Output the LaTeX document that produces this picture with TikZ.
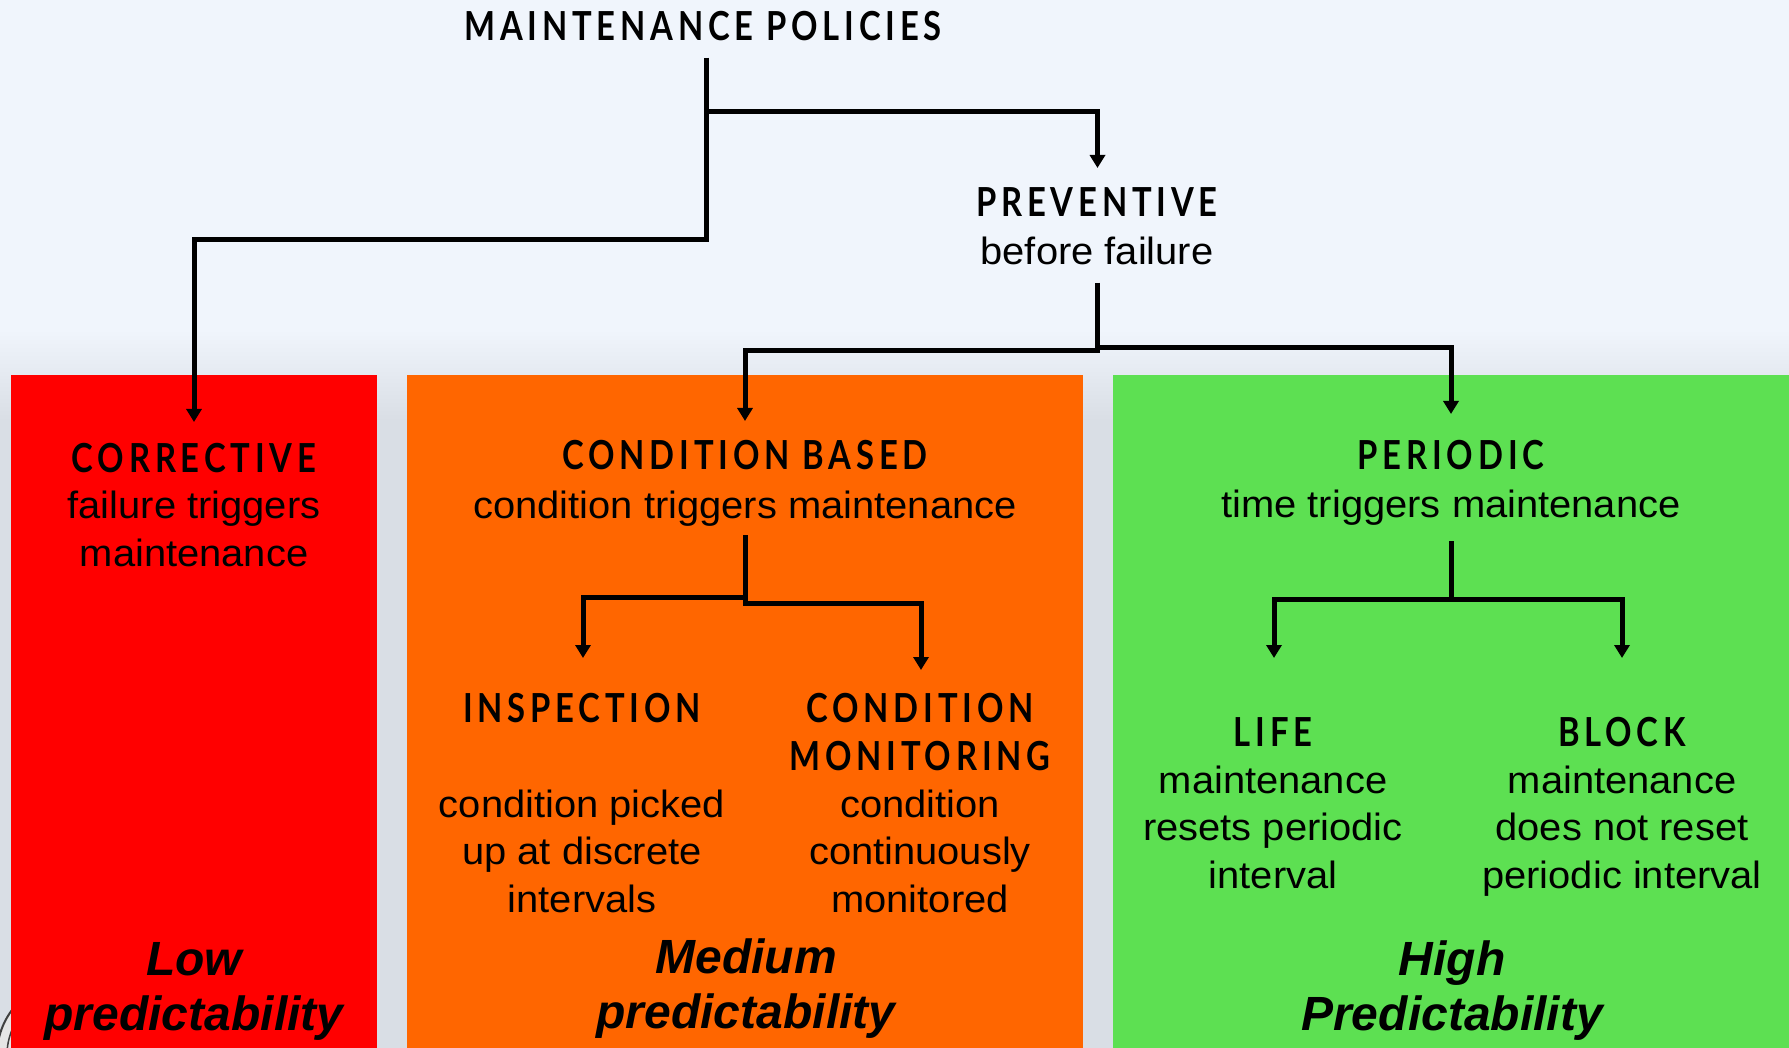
\documentclass[tikz,border=0pt]{standalone}
\usepackage{fontspec}
\usetikzlibrary{arrows.meta}
\setmainfont{Liberation Sans}
\newfontfamily\bodyfont{Liberation Sans}[FakeStretch=1.05]
\newfontfamily\headfont{Lato}[LetterSpace=12,FakeStretch=0.82]
\definecolor{bgtop}{HTML}{F0F5FC}
\definecolor{bggray}{HTML}{D9DEE5}
\definecolor{redbox}{HTML}{FF0000}
\definecolor{orangebox}{HTML}{FF6600}
\definecolor{greenbox}{HTML}{5DE052}
\begin{document}
\begin{tikzpicture}[x=1pt,y=-1pt,
  arr/.style={line width=5pt,-{Triangle[width=15pt,length=13pt]}},
  hd/.style={font=\headfont\bfseries\fontsize{40}{48}\selectfont,anchor=base,inner sep=0pt},
  bd/.style={font=\bodyfont\fontsize{38}{47.5}\selectfont,anchor=base,inner sep=0pt,align=center},
  bi/.style={font=\bfseries\itshape\fontsize{48}{55}\selectfont,anchor=base,inner sep=0pt,align=center}]
% background
\useasboundingbox (0,0) rectangle (1789,1048);
\fill[bgtop] (0,0) rectangle (1789,1048);
\shade[top color=bgtop,bottom color=bggray] (0,330) rectangle (1789,420);
\fill[bggray] (0,420) rectangle (1789,1048);
% partial seal at bottom left
\filldraw[fill=white!90!black,draw=black!75,line width=2pt] (72,1055) circle (75);
\draw[black!75,line width=1.5pt] (72,1055) circle (65);
% boxes
\fill[redbox] (11,375) rectangle (377,1048);
\fill[orangebox] (407,375) rectangle (1083,1048);
\fill[greenbox] (1113,375) rectangle (1789,1048);
% texts (base anchor = baseline of the last line)
\node[hd] (mp) at (703,41) {MAINTENANCE POLICIES};
\node[hd] (prev) at (1097,217) {PREVENTIVE};
\node[bd] (prevt) at (1097,265) {before failure};
\node[hd] (corr) at (194,472) {CORRECTIVE};
\node[bd] (corrt) at (194,566) {failure triggers\\maintenance};
\node[hd] (cb) at (745,470) {CONDITION BASED};
\node[bd] (cbt) at (745,518) {condition triggers maintenance};
\node[hd] (per) at (1451,470) {PERIODIC};
\node[bd] (pert) at (1451,517) {time triggers maintenance};
\node[hd] (insp) at (582,722) {INSPECTION};
\node[bd] (inspt) at (582,912) {condition picked\\up at discrete\\intervals};
\node[hd,align=center] (cm) at (920,770) {CONDITION\\MONITORING};
\node[bd] (cmt) at (920,912) {condition\\continuously\\monitored};
\node[hd] (life) at (1273,746) {LIFE};
\node[bd] (lifet) at (1273,888) {maintenance\\resets periodic\\interval};
\node[hd] (block) at (1622,746) {BLOCK};
\node[bd] (blockt) at (1622,888) {maintenance\\does not reset\\periodic interval};
\node[bi] (low) at (194,1030) {Low\\predictability};
\node[bi] (med) at (746,1028) {Medium\\predictability};
\node[bi] (high) at (1452,1030) {High\\Predictability};
% connector coordinates
\coordinate (mpb) at (706,58);
\coordinate (prevb) at (1097.5,283);
\coordinate (cbb) at (745,535);
\coordinate (perb) at (1451,541);
% connectors
\draw[arr] (mpb) |- (1097.5,112) -- (1097.5,168);
\draw[arr] (mpb) |- (194,240) -- (194,422);
\draw[arr] (prevb) -- (1097.5,351) -| (745,421);
\draw[arr] (prevb) -- (1097.5,348) -| (1451,414);
\draw[arr] (cbb) -- (745,597) -| (583,658);
\draw[arr] (cbb) -- (745,603) -| (921,670);
\draw[arr] (perb) -- (1451,599) -| (1274,658);
\draw[arr] (perb) -- (1451,599) -| (1622,658);
\end{tikzpicture}
\end{document}
